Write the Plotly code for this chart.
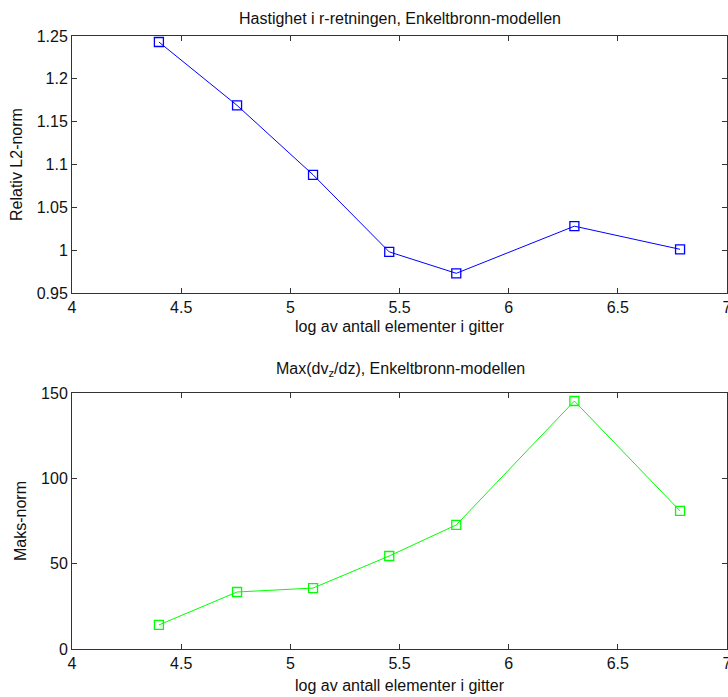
import plotly.graph_objects as go

x_vals = [4.398, 4.756, 5.104, 5.453, 5.760, 6.301, 6.785]
rel_l2 = [1.243, 1.169, 1.088, 0.998, 0.973, 1.028, 1.001]
maks = [14.1, 33.4, 35.7, 54.5, 72.7, 145.3, 80.9]

x_ticks = [4, 4.5, 5, 5.5, 6, 6.5, 7]
x_ticktext = ["4", "4.5", "5", "5.5", "6", "6.5", "7"]
y1_ticks = [0.95, 1.0, 1.05, 1.1, 1.15, 1.2, 1.25]
y1_ticktext = ["0.95", "1", "1.05", "1.1", "1.15", "1.2", "1.25"]
y2_ticks = [0, 50, 100, 150]
y2_ticktext = ["0", "50", "100", "150"]

title1 = "Hastighet i r-retningen, Enkeltbronn-modellen"
title2 = "Max(dv<sub>z</sub>/dz), Enkeltbronn-modellen"
xlabel = "log av antall elementer i gitter"
ylabel1 = "Relativ L2-norm"
ylabel2 = "Maks-norm"

W, H = 728, 697
FONT = "Liberation Sans, Arial, Helvetica, sans-serif"
FS = 16

fig = go.Figure()
fig.add_trace(go.Scatter(x=x_vals, y=rel_l2, mode="lines+markers",
                         line=dict(color="#0000ff", width=1),
                         marker=dict(symbol="square-open", size=9, color="#0000ff", line=dict(width=1.3)),
                         xaxis="x", yaxis="y", showlegend=False))
fig.add_trace(go.Scatter(x=x_vals, y=maks, mode="lines+markers",
                         line=dict(color="#00ff00", width=1),
                         marker=dict(symbol="square-open", size=9, color="#00ff00", line=dict(width=1.3)),
                         xaxis="x2", yaxis="y2", showlegend=False))

def py(px):
    return (H - px) / H

axis_common = dict(showgrid=False, zeroline=False, showline=True, linecolor="#333333",
                   linewidth=1, mirror="ticks", ticks="inside", ticklen=5, tickcolor="#333333",
                   automargin=False, ticklabeloverflow="allow",
                   tickfont=dict(family=FONT, size=FS, color="#111111"))

fig.update_layout(
    template="none",
    width=W, height=H,
    margin=dict(l=72, r=1, t=0, b=0),
    paper_bgcolor="white", plot_bgcolor="white",
    xaxis=dict(domain=[0, 1], range=[4, 7], tickvals=x_ticks, ticktext=x_ticktext,
               anchor="y", **axis_common),
    yaxis=dict(domain=[py(293), py(36)], range=[0.95, 1.25], tickvals=y1_ticks,
               ticktext=y1_ticktext, anchor="x", **axis_common),
    xaxis2=dict(domain=[0, 1], range=[4, 7], tickvals=x_ticks, ticktext=x_ticktext,
                anchor="y2", **axis_common),
    yaxis2=dict(domain=[py(649), py(393)], range=[0, 150], tickvals=y2_ticks,
                ticktext=y2_ticktext, anchor="x2", **axis_common),
)

ann_font = dict(family=FONT, size=FS, color="#111111")
cx = (400 - 72) / 655
fig.add_annotation(text=title1, xref="paper", yref="paper", x=cx, y=py(18),
                   showarrow=False, font=ann_font, xanchor="center", yanchor="middle")
fig.add_annotation(text=title2, xref="paper", yref="paper", x=cx, y=py(369),
                   showarrow=False, font=ann_font, xanchor="center", yanchor="middle")
fig.add_annotation(text=xlabel, xref="paper", yref="paper", x=cx, y=py(326),
                   showarrow=False, font=ann_font, xanchor="center", yanchor="middle")
fig.add_annotation(text=xlabel, xref="paper", yref="paper", x=cx, y=py(685),
                   showarrow=False, font=ann_font, xanchor="center", yanchor="middle")
fig.add_annotation(text=ylabel1, xref="paper", yref="paper", x=(17 - 72) / 655, y=py(165),
                   showarrow=False, font=ann_font, textangle=-90, xanchor="center", yanchor="middle")
fig.add_annotation(text=ylabel2, xref="paper", yref="paper", x=(20 - 72) / 655, y=py(521),
                   showarrow=False, font=ann_font, textangle=-90, xanchor="center", yanchor="middle")

fig.write_html("out.html")
